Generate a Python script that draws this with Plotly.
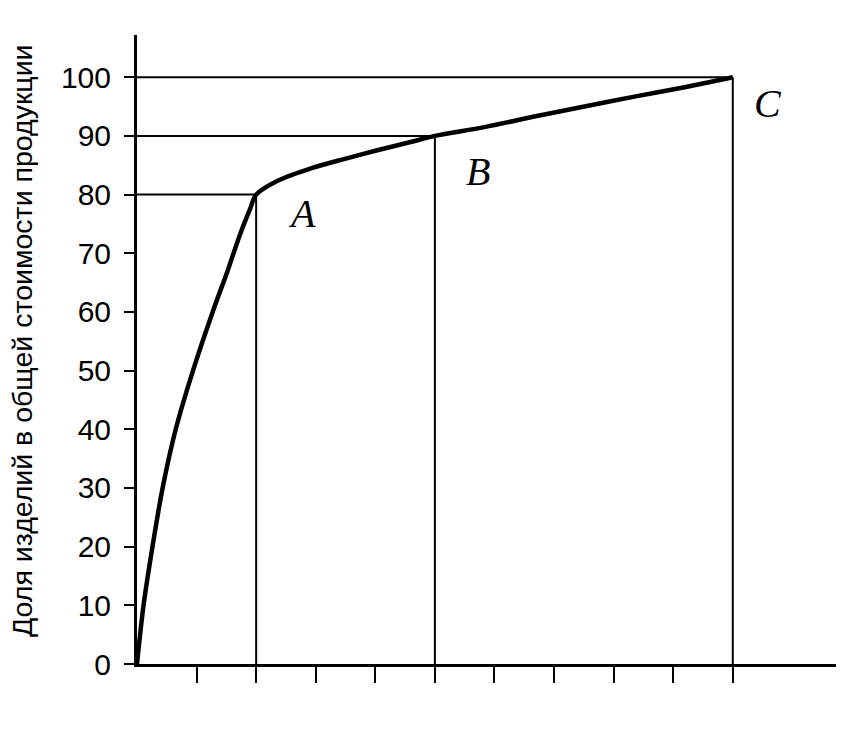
import plotly.graph_objects as go

# Cumulative curve (ABC analysis)
curve_x = [0, 1.1, 2.6, 4.3, 6.5, 9.4, 12.7, 15.2, 17.4, 19.0, 20,
           23.7, 29.3, 34.9, 40.5, 46.1, 50,
           58.3, 66.7, 75.1, 83.5, 91.9, 100]
curve_y = [0, 10, 20, 30, 40, 50, 60, 67, 73.5, 77.6, 80,
           82.4, 84.5, 86.1, 87.6, 89.0, 90,
           91.5, 93.3, 95.0, 96.7, 98.3, 100]

# Key points
point_names = ["A", "B", "C"]
point_x = [20, 50, 100]
point_y = [80, 90, 100]
label_xshift = [46, 43, 35]
label_yshift = [-19, -36, -26]

y_ticks = [0, 10, 20, 30, 40, 50, 60, 70, 80, 90, 100]
x_ticks = [10, 20, 30, 40, 50, 60, 70, 80, 90, 100]

y_title = "Доля изделий в общей стоимости продукции"

W, H = 844, 736
# the page body adds an 8px offset; margins compensate for it
ml, mr, mt, mb = 129, 9, 27, 80

SANS = "Liberation Sans, Arial, sans-serif"

fig = go.Figure()

# Guide lines from the key points to the axes
for px, py in zip(point_x, point_y):
    fig.add_trace(go.Scatter(x=[0, px], y=[py, py], mode="lines",
                             line=dict(color="black", width=2), hoverinfo="skip",
                             showlegend=False, cliponaxis=False))
    fig.add_trace(go.Scatter(x=[px, px], y=[py, 0], mode="lines",
                             line=dict(color="black", width=2), hoverinfo="skip",
                             showlegend=False, cliponaxis=False))

fig.add_trace(go.Scatter(x=curve_x, y=curve_y, mode="lines",
                         line=dict(color="black", width=4.5, shape="spline", smoothing=0.9),
                         showlegend=False, cliponaxis=False))

for name, px, py, dx, dy in zip(point_names, point_x, point_y, label_xshift, label_yshift):
    fig.add_annotation(x=px, y=py, text=name, showarrow=False,
                       xanchor="center", yanchor="middle",
                       xshift=dx, yshift=dy,
                       font=dict(family="Liberation Serif, Times New Roman, serif",
                                 size=40, color="black", style="italic"))

plot_w = W - ml - mr
plot_h = H - mt - mb
fig.add_annotation(xref="paper", yref="paper",
                   x=-(ml - 14) / plot_w, y=(H - mb - 333) / plot_h,
                   text=y_title, textangle=-90, showarrow=False,
                   xanchor="center", yanchor="middle",
                   font=dict(family=SANS, size=28.5, color="black"))

fig.update_xaxes(range=[0, 118.5], showgrid=False, zeroline=False,
                 showline=True, linecolor="black", linewidth=3,
                 ticks="outside", ticklen=16, tickwidth=2, tickcolor="black",
                 tickvals=x_ticks, showticklabels=False)
fig.update_yaxes(range=[0, 107.2], showgrid=False, zeroline=False,
                 showline=True, linecolor="black", linewidth=3,
                 ticks="outside", ticklen=10, tickwidth=2, tickcolor="black",
                 tickvals=y_ticks, ticktext=[str(v) for v in y_ticks],
                 ticklabelstandoff=7,
                 tickfont=dict(family=SANS, size=30, color="black"))

fig.update_layout(width=W, height=H, margin=dict(l=ml, r=mr, t=mt, b=mb),
                  paper_bgcolor="white", plot_bgcolor="white")

fig.write_html("out.html")
